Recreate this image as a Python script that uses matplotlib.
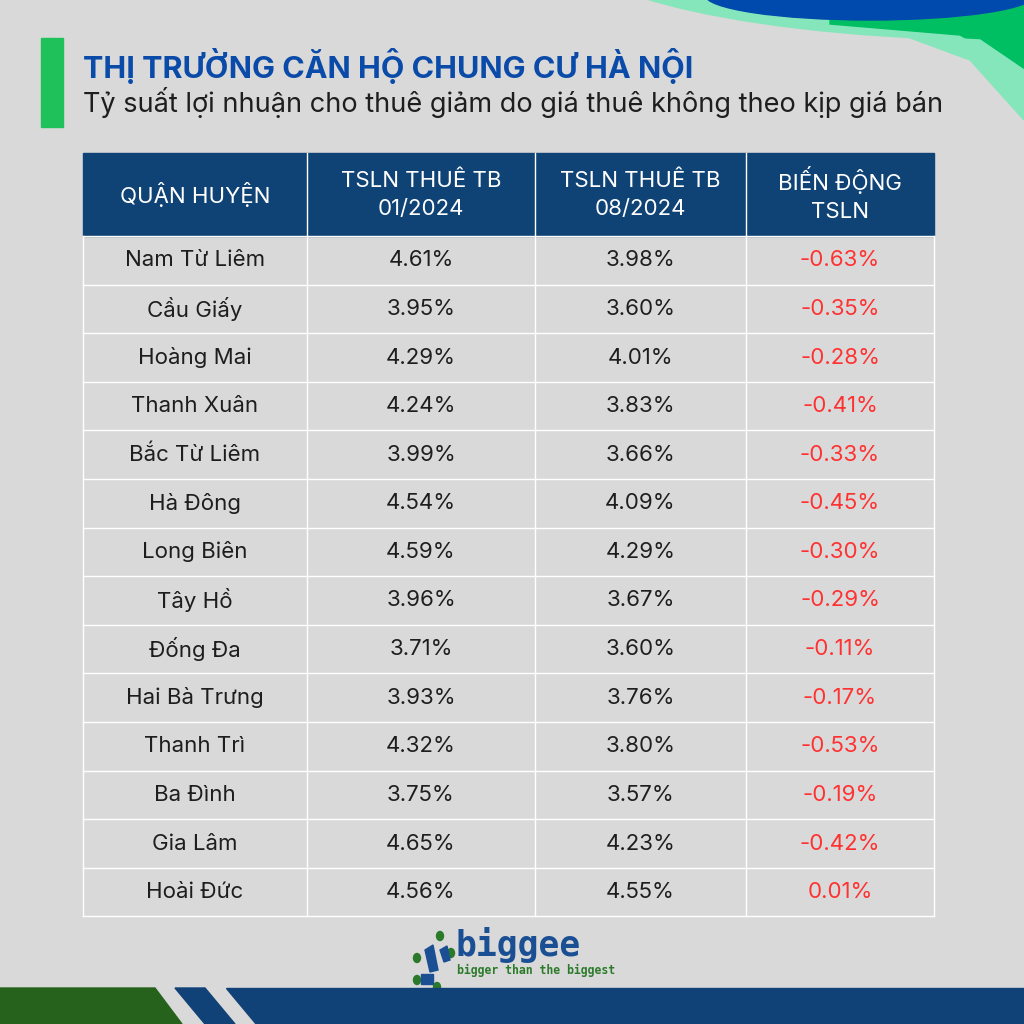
import matplotlib.pyplot as plt
from matplotlib.patches import Rectangle, Polygon, Ellipse

districts = ["Nam Từ Liêm", "Cầu Giấy", "Hoàng Mai", "Thanh Xuân", "Bắc Từ Liêm", "Hà Đông",
             "Long Biên", "Tây Hồ", "Đống Đa", "Hai Bà Trưng", "Thanh Trì", "Ba Đình",
             "Gia Lâm", "Hoài Đức"]
jan_2024 = [4.61, 3.95, 4.29, 4.24, 3.99, 4.54, 4.59, 3.96, 3.71, 3.93, 4.32, 3.75, 4.65, 4.56]
aug_2024 = [3.98, 3.60, 4.01, 3.83, 3.66, 4.09, 4.29, 3.67, 3.60, 3.76, 3.80, 3.57, 4.23, 4.55]
change = [-0.63, -0.35, -0.28, -0.41, -0.33, -0.45, -0.30, -0.29, -0.11, -0.17, -0.53, -0.19, -0.42, 0.01]
headers = ["QUẬN HUYỆN", "TSLN THUÊ TB\n01/2024", "TSLN THUÊ TB\n08/2024", "BIẾN ĐỘNG\nTSLN"]

BG = "#d9d9d9"
NAVY = "#0f4275"
plt.rcParams["font.family"] = "Inter"

fig = plt.figure(figsize=(10.24, 10.24), dpi=100, facecolor=BG)
ax = fig.add_axes([0, 0, 1, 1])
ax.set_xlim(0, 1024)
ax.set_ylim(1024, 0)
ax.axis("off")

# trang tri goc tren phai
ax.add_patch(Ellipse((1010, -60), 900, 200, color="#86e6bb", zorder=1))
ax.add_patch(Polygon([(830, 0), (1024, 0), (1024, 70), (960, 35), (830, 24)], color="#00bf63", zorder=2))
ax.add_patch(Ellipse((870, -5), 330, 50, color="#004aad", zorder=3))
ax.add_patch(Polygon([(905, 36), (980, 40), (1024, 70), (1024, 120), (970, 60)], color="#86e6bb", zorder=2))

# tieu de
ax.add_patch(Rectangle((41, 38), 22, 89, color="#1fc15a"))
ax.text(83, 66, "THỊ TRƯỜNG CĂN HỘ CHUNG CƯ HÀ NỘI", fontsize=22, fontweight="bold",
        color="#0a4aa8", va="center")
ax.text(83, 103, "Tỷ suất lợi nhuận cho thuê giảm do giá thuê không theo kịp giá bán",
        fontsize=19.5, color="#1e1e1e", va="center")

# bang
cols = [83, 307, 535, 746, 934]
top, head_h, row_h = 153, 83, 48.6
ax.add_patch(Rectangle((cols[0], top), cols[-1] - cols[0], head_h, color=NAVY))
for i, h in enumerate(headers):
    ax.text((cols[i] + cols[i + 1]) / 2, top + head_h / 2, h, color="white", fontsize=16,
            ha="center", va="center", linespacing=1.5)
for c in cols[1:-1]:
    ax.plot([c, c], [top, top + head_h], color="white", lw=1)
y0 = top + head_h
for r in range(len(districts)):
    yc = y0 + row_h * (r + 0.5)
    vals = [districts[r], f"{jan_2024[r]:.2f}%", f"{aug_2024[r]:.2f}%", f"{change[r]:.2f}%"]
    for i, v in enumerate(vals):
        ax.text((cols[i] + cols[i + 1]) / 2, yc, v, fontsize=16, ha="center", va="center",
                color="#ff3131" if i == 3 else "#1e1e1e")
y_end = y0 + row_h * len(districts)
for r in range(len(districts) + 1):
    ax.plot([cols[0], cols[-1]], [y0 + row_h * r] * 2, color="white", lw=1)
for c in cols:
    ax.plot([c, c], [y0, y_end], color="white", lw=1)

# logo
for (x, y) in [(440, 936), (417, 958), (451, 953), (417, 980), (437, 987)]:
    ax.add_patch(Ellipse((x, y), 7, 9, color="#2a7a2a"))
ax.add_patch(Polygon([(425, 950), (433, 945), (438, 970), (430, 972)], color="#1a4f94"))
ax.add_patch(Polygon([(440, 950), (447, 946), (450, 960), (444, 962)], color="#1a4f94"))
ax.add_patch(Rectangle((421, 974), 12, 10, color="#1a4f94"))
ax.text(455, 945, "biggee", fontsize=25, fontweight="bold", color="#1a4f94", va="center",
        family="DejaVu Sans Mono")
ax.text(457, 970, "bigger than the biggest", fontsize=8.3, color="#2a7a2a", va="center",
        family="DejaVu Sans Mono", fontweight="bold")

# dai duoi
ax.add_patch(Polygon([(0, 988), (155, 988), (182, 1024), (0, 1024)], color="#27621d"))
ax.add_patch(Polygon([(175, 988), (205, 988), (235, 1024), (205, 1024)], color="#104278"))
ax.add_patch(Polygon([(226, 988), (1024, 988), (1024, 1024), (256, 1024)], color="#104278"))

fig.savefig("out.png", dpi=100, facecolor=BG)
